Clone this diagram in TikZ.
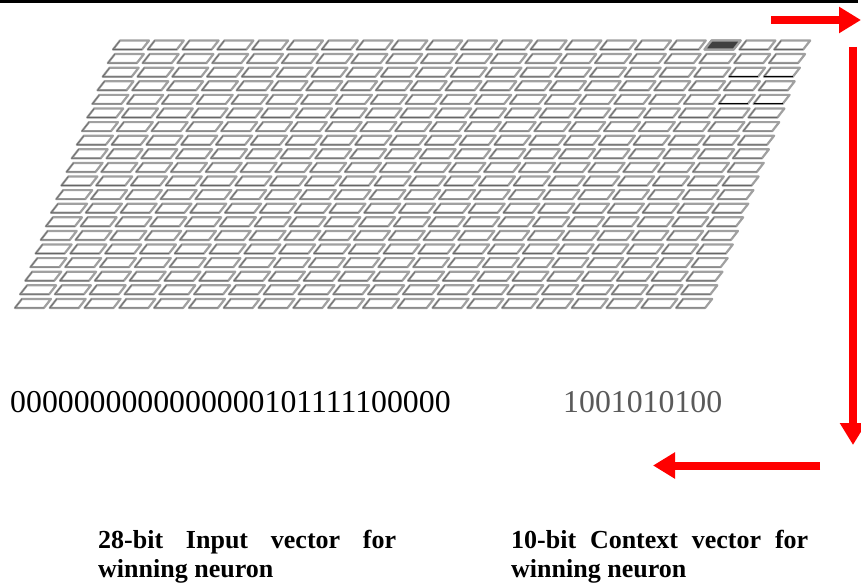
\documentclass[tikz,border=0pt]{standalone}
\usepackage{fontspec}
\setmainfont{Liberation Serif}
\usetikzlibrary{arrows.meta}
\definecolor{arrowred}{RGB}{255,0,0}
\definecolor{digitgray}{RGB}{90,90,90}
\definecolor{cellgray}{RGB}{160,160,160}
\definecolor{winner}{RGB}{64,64,64}
\tikzset{
 cell/.style={draw=cellgray, line width=2.2pt, fill=white, line join=round},
 celledge/.style={draw=black!60, line width=0.6pt},
 darkedge/.style={draw=black, line width=1.1pt},
 redarrow/.style={draw=arrowred, line width=8pt, -{Triangle[length=22pt,width=25pt]}},
 bits/.style={inner sep=0pt, anchor=base west, font=\fontsize{31.8}{36}\selectfont},
 caption/.style={inner sep=0pt, anchor=base west, font=\fontsize{26}{30}\selectfont\bfseries},
}
\begin{document}
\begin{tikzpicture}[x=1pt,y=-1pt]
\useasboundingbox (0,0) rectangle (861,583);
\fill[white] (0,0) rectangle (861,583);
\draw[line width=3pt] (0,2) -- (858,2);
\foreach \r in {0,...,19}{
 \foreach \c in {0,...,19}{
  \pgfmathsetmacro{\xx}{113-5.16*\r+34.8*\c}
  \pgfmathsetmacro{\yy}{40.5+13.6*\r}
  \draw[cell] (\xx+7,\yy) -- ++(29,0) -- ++(-7,9) -- ++(-29,0) -- cycle;
  \draw[celledge] (\xx+7,\yy) -- (\xx,\yy+9) -- ++(29,0);
 }
}
% winning neuron
\pgfmathsetmacro{\wx}{113+34.8*17}
\draw[cell, fill=winner] (\wx+7,40.5) -- ++(29,0) -- ++(-7,9) -- ++(-29,0) -- cycle;
% darker edges at the right of a few top rows
\foreach \r in {2,4}{
 \foreach \c in {18,19}{
  \pgfmathsetmacro{\xx}{113-5.16*\r+34.8*\c}
  \pgfmathsetmacro{\yy}{40.5+13.6*\r}
  \draw[darkedge] (\xx,\yy+9) -- ++(29,0);
 }
}
% arrows
\coordinate (ra1) at (771,20);
\coordinate (ra2) at (861,20);
\coordinate (da1) at (853,47);
\coordinate (da2) at (853,445);
\coordinate (la1) at (820,465.5);
\coordinate (la2) at (653,465.5);
\draw[redarrow] (ra1) -- (ra2);
\draw[redarrow] (da1) -- (da2);
\draw[redarrow] (la1) -- (la2);
% texts
\node[bits] (inbits) at (10,412) {0000000000000000101111100000};
\node[bits, text=digitgray] (ctxbits) at (563,412) {1001010100};
\node[caption] (capa) at (98,548) {\makebox[298pt][s]{28-bit Input vector for}};
\node[caption] (capb) at (98,577) {winning neuron};
\node[caption] (capc) at (511,548) {\makebox[297pt][s]{10-bit Context vector for}};
\node[caption] (capd) at (511,577) {winning neuron};
\end{tikzpicture}
\end{document}
